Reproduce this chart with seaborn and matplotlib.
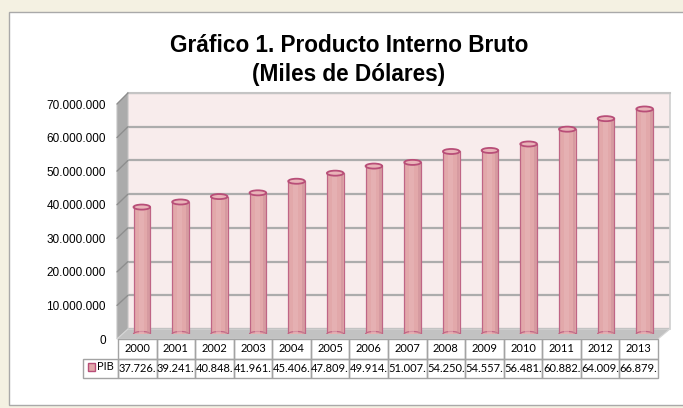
import numpy as np
import pandas as pd
import matplotlib
matplotlib.use("Agg")
import matplotlib.pyplot as plt
import seaborn as sns
from matplotlib.patches import Rectangle, Ellipse, Polygon
from matplotlib.lines import Line2D

# Data (thousands of USD)
years = ["2000", "2001", "2002", "2003", "2004", "2005", "2006",
         "2007", "2008", "2009", "2010", "2011", "2012", "2013"]
pib = [37726000, 39241000, 40848000, 41961000, 45406000, 47809000, 49914000,
       51007000, 54250000, 54557000, 56481000, 60882000, 64009000, 66879000]
y_ticks = [0, 10000000, 20000000, 30000000, 40000000, 50000000, 60000000, 70000000]
series_name = "PIB"
title = "Gráfico 1. Producto Interno Bruto\n(Miles de Dólares)"

W, H = 683, 408


def fx(x):
    return x / W


def fy(y):
    return 1 - y / H


def rect(x0, y0, x1, y1):
    return [fx(x0), fy(y1), (x1 - x0) / W, (y1 - y0) / H]


def dots(v):
    return f"{v:,.0f}".replace(",", ".")


sns.set_theme(style="white")
plt.rcParams["font.family"] = ["Liberation Sans", "DejaVu Sans"]
plt.rcParams["text.color"] = "black"
plt.rcParams["ytick.color"] = "black"

fig = plt.figure(figsize=(W / 100, H / 100), dpi=100)
fig.patch.set_facecolor("#F4F1E2")

# white chart panel (runs off the right edge)
fig.patches.append(Rectangle((fx(9), fy(405)), (700 - 9) / W, (405 - 12) / H,
                             transform=fig.transFigure, facecolor="white",
                             edgecolor="#A9A9A9", linewidth=1.0, zorder=-10))

fig.text(fx(349), fy(60), title, ha="center", va="center",
         fontsize=16.3, fontweight="bold", linespacing=1.3)

# back wall
ax_back = fig.add_axes(rect(128, 93, 670, 329))
ax_back.set_zorder(-6)
ax_back.set_facecolor("#F8ECEC")
ax_back.set_ylim(0, 70000000)
ax_back.set_xlim(0, 1)
ax_back.set_yticks(y_ticks)
ax_back.set_xticks([])
ax_back.tick_params(left=False, labelleft=False)
ax_back.grid(axis="y", color="#ACACAC", linewidth=1.6)
for s in ax_back.spines.values():
    s.set_visible(False)
ax_back.spines["top"].set_visible(True)
ax_back.spines["top"].set_color("#C4C4C4")
ax_back.spines["top"].set_linewidth(1.5)
ax_back.spines["right"].set_visible(True)
ax_back.spines["right"].set_color("#D0D0D0")

# side wall and floor
fig.patches.append(Polygon([(fx(117), fy(104)), (fx(128), fy(93)), (fx(128), fy(329)),
                            (fx(117), fy(339))], closed=True, transform=fig.transFigure,
                           facecolor="#ABABAB", edgecolor="#C4C4C4", linewidth=0.8, zorder=-5))
fig.patches.append(Polygon([(fx(117), fy(339)), (fx(128), fy(329)), (fx(670), fy(329)),
                            (fx(658), fy(339))], closed=True, transform=fig.transFigure,
                           facecolor="#C2C2C2", edgecolor="#D6D6D6", linewidth=0.8, zorder=-5))

# front plane (tick labels + data table)
ax_front = fig.add_axes(rect(117, 104, 658, 339))
ax_front.patch.set_alpha(0)
ax_front.set_ylim(0, 70000000)
ax_front.set_xlim(0, 1)
ax_front.set_xticks([])
ax_front.set_yticks(y_ticks)
ax_front.set_yticklabels([dots(v) for v in y_ticks], fontsize=8.5)
ax_front.tick_params(axis="y", length=0, pad=8)
for s in ax_front.spines.values():
    s.set_visible(False)

# slanted grid lines on side wall
inv = fig.transFigure.inverted()
for v in y_ticks[1:]:
    xb, yb = inv.transform(ax_back.transData.transform((0, v)))
    xf, yf = inv.transform(ax_front.transData.transform((0, v)))
    fig.lines.append(Line2D([xf, xb], [yf, yb], transform=fig.transFigure,
                            color="#8E8E8E", linewidth=1.0, zorder=-4))

# bars (mid depth plane)
ax = fig.add_axes(rect(122.5, 98.5, 664, 334))
ax.set_zorder(1)
ax.patch.set_alpha(0)
df = pd.DataFrame({"year": years, "pib": pib})
sns.barplot(data=df, x="year", y="pib", ax=ax, color="#E2A8AA", width=0.43,
            edgecolor="#BF6585", linewidth=0.9, saturation=1)
ax.set_ylim(0, 70000000)
ax.set_xlim(-0.5, len(years) - 0.5)
ax.set_axis_off()

cap_h = 1500000
for p in list(ax.patches):
    x0, w, top = p.get_x(), p.get_width(), p.get_height()
    ax.add_patch(Rectangle((x0 + w * 0.3, 0), w * 0.3, top,
                           facecolor="#E9B9BB", edgecolor="none", alpha=0.5, zorder=3))
    ax.add_patch(Rectangle((x0 + w * 0.82, 0), w * 0.16, top,
                           facecolor="#CB8D97", edgecolor="none", alpha=0.5, zorder=3))
    ax.add_patch(Ellipse((x0 + w / 2, 0), w, cap_h, facecolor="#E2A8AA",
                         edgecolor="#BF6585", linewidth=0.9, zorder=2))
    ax.add_patch(Ellipse((x0 + w / 2, top), w, cap_h, facecolor="#E9B3B8",
                         edgecolor="#B84E78", linewidth=1.3, zorder=4))

# data table
aw = 658 - 117
ah = 339 - 104
cell_text = [[""] + years, [""] + [dots(v)[:7] for v in pib]]
col_w = [35 / aw] + [(658 - 118) / 14 / aw] * 14
tbl = ax_front.table(cellText=cell_text, colWidths=col_w, cellLoc="center",
                     bbox=[(83 - 117) / aw, (339 - 378) / ah, (658 - 83) / aw, (378 - 339) / ah])
tbl.auto_set_font_size(False)
for (r, c), cell in tbl.get_celld().items():
    cell.set_edgecolor("#A3A3A3")
    cell.set_linewidth(1.0)
    cell.set_facecolor("none")
    cell.get_text().set_fontsize(8.0)
    cell.get_text().set_fontfamily(["Lato", "DejaVu Sans"])
    cell.PAD = 0.02
tbl[0, 0].visible_edges = ""

fig.patches.append(Rectangle((fx(88), fy(371)), 7 / W, 8 / H, transform=fig.transFigure,
                             facecolor="#E2A8AA", edgecolor="#B84E78", linewidth=1.0, zorder=5))
fig.text(fx(97), fy(367), series_name, ha="left", va="center", fontsize=8.0,
         family=["Lato", "DejaVu Sans"])

fig.savefig("out.png", dpi=100, facecolor=fig.get_facecolor())
